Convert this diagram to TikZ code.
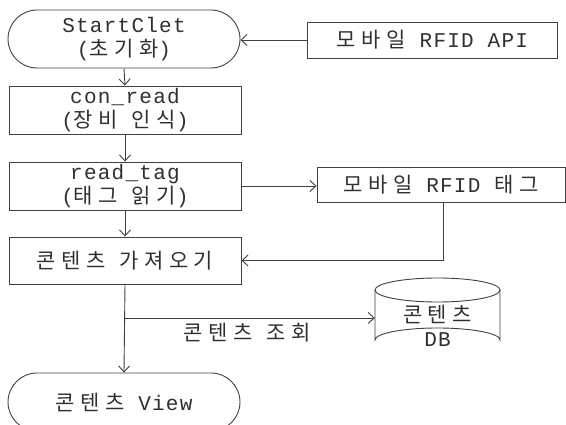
\documentclass[tikz,border=0pt]{standalone}
\usepackage{fontspec}
\setmainfont{Liberation Mono}[LetterSpace=6]
\newfontfamily\krfont{Noto Sans CJK KR}[LetterSpace=26,Scale=1.0]
\newcommand{\K}[1]{{\krfont #1}}
\usetikzlibrary{arrows.meta,shapes.misc}
\definecolor{ln}{HTML}{404040}
\definecolor{tx}{HTML}{303030}
\begin{document}
\begin{tikzpicture}[x=1pt,y=-1pt,
  every node/.style={text=tx,font=\fontsize{21}{24}\selectfont,align=center,inner sep=0pt},
  box/.style={draw=ln,line width=0.9pt,rectangle},
  term/.style={draw=ln,line width=0.9pt,rounded rectangle},
  arr/.style={draw=ln,line width=0.9pt,-{Straight Barb[length=6pt,width=11pt]}},
  ln/.style={draw=ln,line width=0.9pt}]
\useasboundingbox (0,0) rectangle (566,425);
\clip (0,0) rectangle (566,425);
\node[term,minimum width=232pt,minimum height=58pt] (start) at (124,39) {StartClet\\(\K{초기화})};
\node[box,minimum width=232pt,minimum height=48pt] (conread) at (125,110) {con\_read\\(\K{장비} \K{인식})};
\node[box,minimum width=232pt,minimum height=48pt] (readtag) at (125,186) {read\_tag\\(\K{태그} \K{읽기})};
\node[box,minimum width=232pt,minimum height=47pt] (fetch) at (125,260.5) {\K{콘텐츠} \K{가져오기}};
\node[term,minimum width=232pt,minimum height=58pt] (view) at (124,402) {\K{콘텐츠} View};
\node[box,minimum width=250pt,minimum height=36pt] (api) at (432.5,40) {\K{모바일} RFID API};
\node[box,minimum width=248pt,minimum height=35pt] (tag) at (441,184.5) {\K{모바일} RFID \K{태그}};
% DB cylinder
\node[minimum width=125pt,minimum height=74pt] (db) at (437.5,315) {};
\draw[ln,fill=white] (375,290) -- (375,340) arc[start angle=180,end angle=360,x radius=62.5,y radius=12] -- (500,290);
\draw[ln] (437.5,290) ellipse[x radius=62.5,y radius=12];
\node (dbt) at (437.5,326) {\K{콘텐츠}\\DB};
\coordinate (br) at (125,318);
\node (lbl) at (247,333) {\K{콘텐츠} \K{조회}};
% connectors
\draw[arr] (api.west) -- (api.west -| start.east);
\draw[arr] (start.south) -- (conread.north);
\draw[arr] (conread.south) -- (readtag.north);
\draw[arr] (readtag.south) -- (fetch.north);
\draw[arr] (fetch.south) -- (view.north);
\draw[arr] (readtag.east) -- (readtag.east -| tag.west);
\draw[arr] ([xshift=2pt]tag.south) |- (fetch.east);
\draw[arr] (br) -- (br -| db.west);
\end{tikzpicture}
\end{document}
